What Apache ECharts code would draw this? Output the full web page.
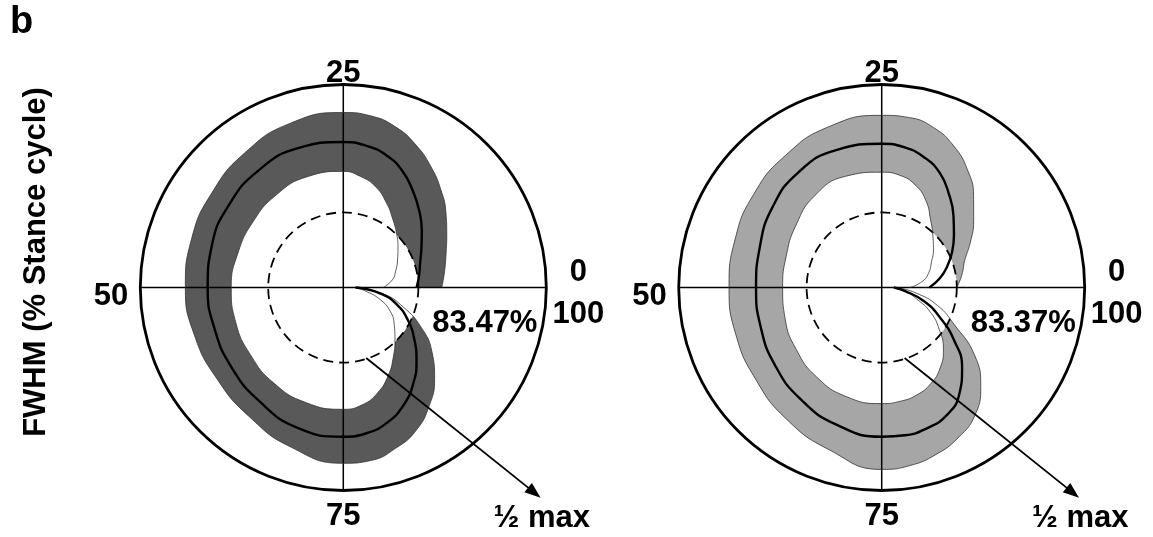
<!DOCTYPE html>
<html><head><meta charset="utf-8">
<script src="https://cdn.jsdelivr.net/npm/echarts@6/dist/echarts.min.js"></script>
<style>html,body{margin:0;padding:0;background:#fff}#c{width:1153px;height:537px}</style>
</head><body><div id="c"></div>
<script>
// ---- data (angle in % of stance cycle, radius relative to outer circle) ----
const angles = [0,2.5,5,7.5,10,12.5,15,17.5,20,22.5,25,30,35,40,45,50,55,60,65,70,75,77.5,80,82.5,85,87.5,90,92.5,95,97.5,100];
const leftUpper = [0.485,0.505,0.532,0.572,0.625,0.68,0.735,0.788,0.832,0.856,0.862,0.85,0.822,0.798,0.785,0.778,0.77,0.768,0.787,0.828,0.866,0.863,0.833,0.79,0.72,0.636,0.54,0.43,0.31,0.2,0.065];
const leftMean  = [0.361,0.378,0.398,0.432,0.478,0.53,0.585,0.643,0.685,0.708,0.717,0.722,0.712,0.695,0.68,0.668,0.666,0.677,0.697,0.727,0.735,0.727,0.70,0.652,0.586,0.51,0.432,0.358,0.28,0.183,0.06];
const leftLower = [0.197,0.245,0.272,0.30,0.333,0.372,0.415,0.468,0.52,0.553,0.572,0.574,0.563,0.55,0.546,0.552,0.557,0.565,0.582,0.596,0.6,0.586,0.546,0.487,0.42,0.36,0.31,0.26,0.19,0.11,0.06];
const rightUpper = [0.37,0.40,0.43,0.49,0.56,0.64,0.718,0.782,0.828,0.848,0.848,0.834,0.805,0.78,0.76,0.752,0.755,0.768,0.80,0.84,0.896,0.888,0.865,0.83,0.78,0.69,0.565,0.40,0.29,0.17,0.074];
const rightMean  = [0.235,0.29,0.34,0.39,0.44,0.50,0.565,0.632,0.675,0.70,0.708,0.713,0.70,0.667,0.632,0.619,0.627,0.65,0.68,0.712,0.735,0.737,0.728,0.706,0.65,0.56,0.44,0.32,0.22,0.12,0.06];
const rightLower = [0.14,0.205,0.245,0.275,0.315,0.357,0.41,0.48,0.532,0.56,0.568,0.576,0.56,0.522,0.495,0.488,0.50,0.52,0.545,0.565,0.572,0.568,0.557,0.532,0.49,0.43,0.35,0.27,0.18,0.115,0.06];
const HALF_MAX = 0.37;
const tickLabels = {0:'0', 25:'25', 50:'50', 75:'75', 100:'100'};
const fwhmTexts = ['83.47%', '83.37%'];
const halfMaxText = '\u00BD max';
const yTitle = 'FWHM (% Stance cycle)';
const panelLetter = 'b';
// annotation anchors in polar terms [radius, angle]
const fwhmAnchor = [0.72, 96.0];
const halfMaxAnchor = [1.5, 86.3];
const arrowFrom = [0.365, 80.0];
const arrowTo = [1.42, 87.0];

const FONT = '"Liberation Sans", Arial, Helvetica, sans-serif';
const bandColors = ['#595959', '#a6a6a6'];
const panels = [
  {center:[343.3, 287.5], upper:leftUpper, mean:leftMean, lower:leftLower},
  {center:[881.7, 287.5], upper:rightUpper, mean:rightMean, lower:rightLower}
];
const pairs = rs => rs.map((r, i) => [r, angles[i]]);
const tok = (extra) => Object.assign({fontFamily:FONT, fontWeight:'bold', fontSize:31, color:'#000'}, extra || {});

const chart = echarts.init(document.getElementById('c'));
const option = {
  animation:false,
  backgroundColor:'#fff',
  polar: panels.map(p => ({center:p.center, radius:203})),
  radiusAxis: panels.map((p, i) => ({polarIndex:i, type:'value', min:0, max:1, show:false})),
  angleAxis: panels.map((p, i) => ({
    polarIndex:i, type:'value', min:0, max:100, interval:25, startAngle:0, clockwise:false, z:2,
    axisLine:{show:true, lineStyle:{color:'#000', width:2.8}},
    axisTick:{show:false},
    splitLine:{show:true, lineStyle:{color:'#000', width:1.5}},
    axisLabel:{
      show:true, margin:6,
      formatter: v => v === 0 ? '{z|' + tickLabels[0] + '}\n{h|' + tickLabels[100] + '}'
                 : v === 25 ? '{t|' + tickLabels[25] + '}'
                 : v === 50 ? '{l|' + tickLabels[50] + '}'
                 : v === 75 ? '{b|' + tickLabels[75] + '}' : '',
      rich:{
        z: tok({lineHeight:53, width:52, align:'center'}),
        h: tok({lineHeight:31, width:52, align:'center'}),
        t: tok({lineHeight:11}),
        l: tok({lineHeight:31, padding:[17,6,0,0]}),
        b: tok({lineHeight:31, padding:[9,0,0,0]})
      }
    }
  })),
  series: []
};
panels.forEach((p, i) => {
  const line = (data, z, extra) => Object.assign({type:'line', coordinateSystem:'polar', polarIndex:i, data:pairs(data),
    smooth:true, symbol:'none', silent:true, z:z}, extra);
  option.series.push(
    line(p.upper, 1, {lineStyle:{width:0}, areaStyle:{color:bandColors[i], opacity:1}}),
    line(p.lower, 1, {lineStyle:{width:0}, areaStyle:{color:'#fff', opacity:1}}),
    {type:'custom', coordinateSystem:'polar', polarIndex:i, data:[[HALF_MAX, 0]], z:1, silent:true,
     renderItem:(params, api) => {
       const c = api.coord([0, 0]);
       const e = api.coord([api.value(0), 0]);
       const r = Math.hypot(e[0] - c[0], e[1] - c[1]);
       return {type:'circle', shape:{cx:c[0], cy:c[1], r:r},
               style:{fill:'#fff', stroke:'#000', lineWidth:1.8, lineDash:[10,6]}};
     }},
    line(p.upper, 3, {lineStyle:{width:0.8, color:'#333'}}),
    line(p.lower, 3, {lineStyle:{width:0.8, color:'#333'}}),
    line(p.mean, 3, {lineStyle:{width:2.4, color:'#000'}})
  );
});
chart.setOption(option);

const graphic = [
  {type:'text', left:10, top:4, style:{text:panelLetter, font:'bold 38px ' + FONT, fill:'#000'}},
  {type:'text', x:36, y:262, rotation:Math.PI/2,
   style:{text:yTitle, font:'bold 31px ' + FONT, fill:'#000', textAlign:'center', textVerticalAlign:'middle'}}
];
panels.forEach((p, i) => {
  const f = chart.convertToPixel({polarIndex:i}, fwhmAnchor);
  const h = chart.convertToPixel({polarIndex:i}, halfMaxAnchor);
  const a0 = chart.convertToPixel({polarIndex:i}, arrowFrom);
  const a1 = chart.convertToPixel({polarIndex:i}, arrowTo);
  const dx = a1[0] - a0[0], dy = a1[1] - a0[1], len = Math.hypot(dx, dy);
  const ux = dx / len, uy = dy / len, L = 16, W = 6;
  graphic.push(
    {type:'text', x:f[0], y:f[1], z:10, style:{text:fwhmTexts[i], font:'bold 31px ' + FONT, fill:'#000', textAlign:'center', textVerticalAlign:'middle'}},
    {type:'text', x:h[0], y:h[1], z:10, style:{text:halfMaxText, font:'bold 31px ' + FONT, fill:'#000', textAlign:'center', textVerticalAlign:'middle'}},
    {type:'line', z:10, shape:{x1:a0[0], y1:a0[1], x2:a1[0] - ux * L * 0.8, y2:a1[1] - uy * L * 0.8}, style:{stroke:'#000', lineWidth:1.8}},
    {type:'polygon', z:10, shape:{points:[[a1[0], a1[1]], [a1[0] - ux * L - uy * W, a1[1] - uy * L + ux * W], [a1[0] - ux * L + uy * W, a1[1] - uy * L - ux * W]]}, style:{fill:'#000'}}
  );
});
chart.setOption({graphic:graphic});
</script></body></html>
